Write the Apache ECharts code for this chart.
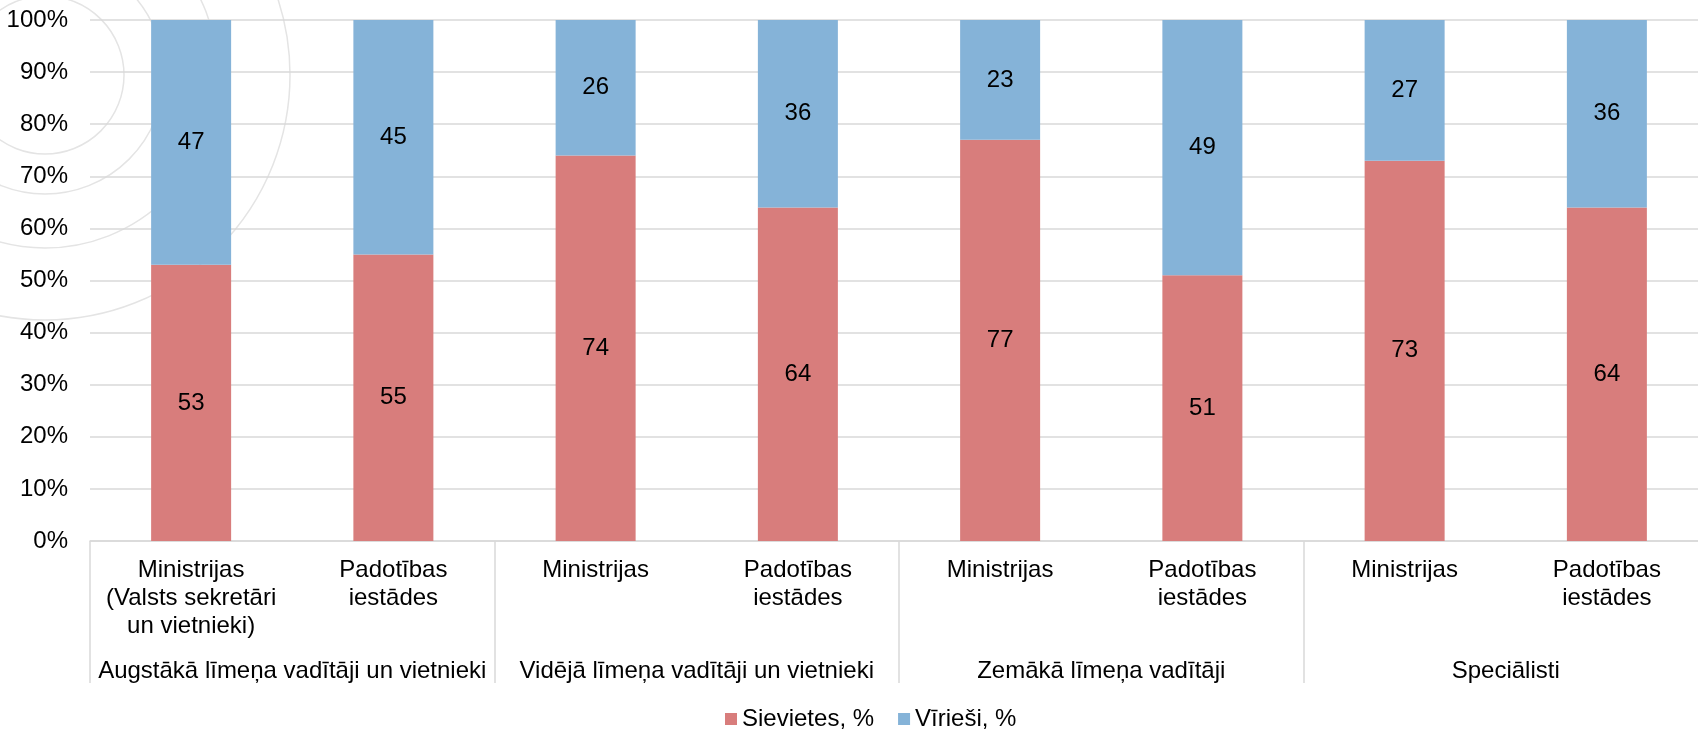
<!DOCTYPE html>
<html>
<head>
<meta charset="utf-8">
<script src="https://cdn.jsdelivr.net/npm/echarts@6/dist/echarts.min.js"></script>
<style>
html,body{margin:0;padding:0;background:#fff;}
#chart{width:1698px;height:729px;}
</style>
</head>
<body>
<div id="chart"></div>
<script>
var categories = [
  'Ministrijas\n(Valsts sekretāri\nun vietnieki)', 'Padotības\niestādes',
  'Ministrijas', 'Padotības\niestādes',
  'Ministrijas', 'Padotības\niestādes',
  'Ministrijas', 'Padotības\niestādes'
];
var groups = [
  'Augstākā līmeņa vadītāji un vietnieki',
  'Vidējā līmeņa vadītāji un vietnieki',
  'Zemākā līmeņa vadītāji',
  'Speciālisti'
];
var women = [53, 55, 74, 64, 77, 51, 73, 64];
var men = [47, 45, 26, 36, 23, 49, 27, 36];
var seriesNames = ['Sievietes, %', 'Vīrieši, %'];

var FONT = '"Liberation Sans", Arial, sans-serif';
var FS = 24;
var chart = echarts.init(document.getElementById('chart'), null, {renderer: 'canvas'});

var circleRadii = [79, 119, 173, 245];
var circles = circleRadii.map(function (r) {
  return {
    type: 'circle', z: -10, silent: true,
    shape: {cx: 45, cy: 75, r: r},
    style: {fill: 'none', stroke: '#e4e4e4', lineWidth: 1.5}
  };
});

chart.setOption({
  backgroundColor: '#ffffff',
  animation: false,
  textStyle: {fontFamily: FONT},
  graphic: circles,
  grid: {left: 90, width: 1618, top: 20, height: 521, containLabel: false, outerBoundsMode: 'none'},
  legend: {
    left: 720, top: 702,
    itemWidth: 12, itemHeight: 12, itemGap: 24,
    icon: 'rect',
    textStyle: {fontFamily: FONT, fontSize: FS, color: '#000'},
    data: seriesNames
  },
  xAxis: [
    {
      type: 'category',
      data: categories,
      position: 'bottom',
      axisLine: {show: true, lineStyle: {color: '#d9d9d9', width: 1.5}},
      axisTick: {show: false},
      axisLabel: {
        interval: 0, margin: 15, color: '#000',
        fontFamily: FONT, fontSize: FS, lineHeight: 28, align: 'center', verticalAlign: 'top'
      }
    },
    {
      type: 'category',
      data: groups,
      position: 'bottom',
      axisLine: {show: false},
      axisTick: {show: true, interval: 0, length: 142, lineStyle: {color: '#d9d9d9', width: 1.5}},
      axisLabel: {
        interval: 0, margin: 116, color: '#000',
        fontFamily: FONT, fontSize: FS, lineHeight: 28, verticalAlign: 'top'
      }
    }
  ],
  yAxis: {
    type: 'value', min: 0, max: 100, interval: 10,
    axisLine: {show: false}, axisTick: {show: false},
    splitLine: {lineStyle: {color: '#d9d9d9', width: 1.5}},
    axisLabel: {formatter: '{value}%', margin: 22, color: '#000', fontFamily: FONT, fontSize: FS}
  },
  series: [
    {
      name: seriesNames[0], type: 'bar', stack: 'a', data: women, barWidth: 80,
      itemStyle: {color: '#d87d7c'},
      label: {show: true, position: 'inside', color: '#000', fontFamily: FONT, fontSize: FS}
    },
    {
      name: seriesNames[1], type: 'bar', stack: 'a', data: men, barWidth: 80,
      itemStyle: {color: '#85b3d8'},
      label: {show: true, position: 'inside', color: '#000', fontFamily: FONT, fontSize: FS}
    }
  ]
});
</script>
</body>
</html>
